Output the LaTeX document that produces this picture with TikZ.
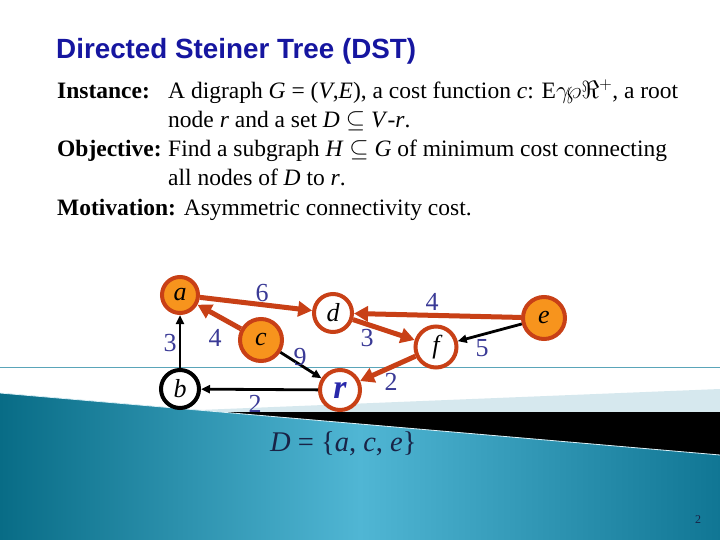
\documentclass[tikz,border=0pt]{standalone}
\usepackage{amsmath,amssymb}
\usepackage{fontspec}
\setmainfont{Liberation Serif}
\newfontfamily\titlefont{Liberation Sans}
\usetikzlibrary{arrows.meta,positioning}
\definecolor{treered}{RGB}{200,64,22}
\definecolor{termfill}{RGB}{247,148,29}
\definecolor{costblue}{RGB}{58,58,150}
\definecolor{titleblue}{RGB}{22,22,160}
\definecolor{rootblue}{RGB}{40,40,170}
\definecolor{tealdark}{RGB}{8,108,134}
\definecolor{teallight}{RGB}{80,182,212}
\definecolor{tealright}{RGB}{16,118,148}
\definecolor{bandblue}{RGB}{214,232,238}
\definecolor{ruleteal}{RGB}{90,165,185}
\definecolor{navytext}{RGB}{25,35,70}
\tikzset{
	vnode/.style={circle, line width=4pt, inner sep=0pt, minimum size=38pt,
		font=\fontsize{26}{26}\selectfont\itshape},
	termnode/.style={vnode, draw=treered, fill=termfill},
	steinnode/.style={vnode, draw=treered, fill=white},
	plainnode/.style={vnode, draw=black, fill=white},
	treearr/.style={-{Triangle[length=14pt,width=15pt]}, line width=5pt, draw=treered},
	plainarr/.style={-{Triangle[length=9pt,width=8pt]}, line width=2.8pt},
	cost/.style={text=costblue, font=\fontsize{26}{26}\selectfont, inner sep=0pt},
	bodytext/.style={anchor=base west, inner sep=0pt, font=\fontsize{23.5}{29}\selectfont}
}
\begin{document}
\begin{tikzpicture}[x=1pt, y=-1pt]
	\useasboundingbox (0,0) rectangle (720,540);
	% slide background
	\fill[white] (0,0) rectangle (720,540);
	\draw[ruleteal, line width=1pt] (0,367) -- (720,367);
	\fill[bandblue] (150,412) -- (720,389) -- (720,412) -- cycle;
	\fill[black] (228,412) rectangle (720,460);
	\shade[left color=tealdark, right color=tealright, middle color=teallight]
		(0,393) -- (720,455) -- (720,540) -- (0,540) -- cycle;
	\draw[white!80!teallight, line width=0.8pt] (0,393) -- (720,455);
	% title and problem statement
	\node[anchor=base west, inner sep=0pt, text=titleblue,
		font=\titlefont\fontsize{27.8}{27.8}\selectfont\bfseries] (title) at (56,59) {Directed Steiner Tree (DST)};
	\node[bodytext] (inst) at (57,99) {\textbf{Instance:}};
	\node[bodytext] (inst1) at (168,99) {A digraph \textit{G} = (\textit{V},\textit{E}), a cost function \textit{c}: E$\gamma\!\wp\Re^{+}$, a root};
	\node[bodytext] (inst2) at (168,128) {node \textit{r} and a set \textit{D} $\subseteq$ \textit{V}-\textit{r}.};
	\node[bodytext] (obj) at (57,157) {\textbf{Objective:}};
	\node[bodytext] (obj1) at (168,157) {Find a subgraph \textit{H} $\subseteq$ \textit{G} of minimum cost connecting};
	\node[bodytext] (obj2) at (168,186) {all nodes of \textit{D} to \textit{r}.};
	\node[bodytext] (mot) at (57,215) {\textbf{Motivation:} Asymmetric connectivity cost.};
	% the digraph
	\node[termnode, minimum size=36pt] (a) at (180,295) {a};
	\node[plainnode] (b) at (180,389) {b};
	\node[termnode, minimum size=42pt] (c) at (261,340) {c};
	\node[steinnode] (d) at (333,313) {d};
	\node[termnode, minimum size=42pt] (e) at (544,318) {e};
	\node[steinnode, minimum size=41pt] (f) at (436,347) {f};
	\node[steinnode, minimum size=40pt, font=\fontsize{34}{34}\selectfont\bfseries\itshape, text=rootblue] (r) at (340,390) {r};
	\draw[treearr] (a) -- (d);
	\draw[treearr] (c) -- (a);
	\draw[plainarr] (b) -- (a);
	\draw[plainarr] (c) -- (r);
	\draw[plainarr] (r) -- (b);
	\draw[treearr] (e) -- (d);
	\draw[treearr] (d) -- (f);
	\draw[plainarr] (e) -- (f);
	\draw[treearr] (f) -- (r);
	\node[cost] (w-ad) at (262,293) {6};
	\node[cost] (w-ca) at (215,338) {4};
	\node[cost] (w-ba) at (170,343) {3};
	\node[cost] (w-cr) at (300,357) {9};
	\node[cost] (w-rb) at (255,404) {2};
	\node[cost] (w-ed) at (432,302) {4};
	\node[cost] (w-df) at (367,338) {3};
	\node[cost] (w-ef) at (482,348) {5};
	\node[cost] (w-fr) at (391,382) {2};
	% terminal set and page number
	\node[anchor=base west, inner sep=0pt, text=navytext, font=\fontsize{28.5}{28.5}\selectfont]
		(dset) at (270,451) {\textit{D} = \{\textit{a}, \textit{c}, \textit{e}\}};
	\node[text=navytext, inner sep=0pt, font=\fontsize{12}{12}\selectfont] (pageno) at (698,520) {2};
\end{tikzpicture}
\end{document}
